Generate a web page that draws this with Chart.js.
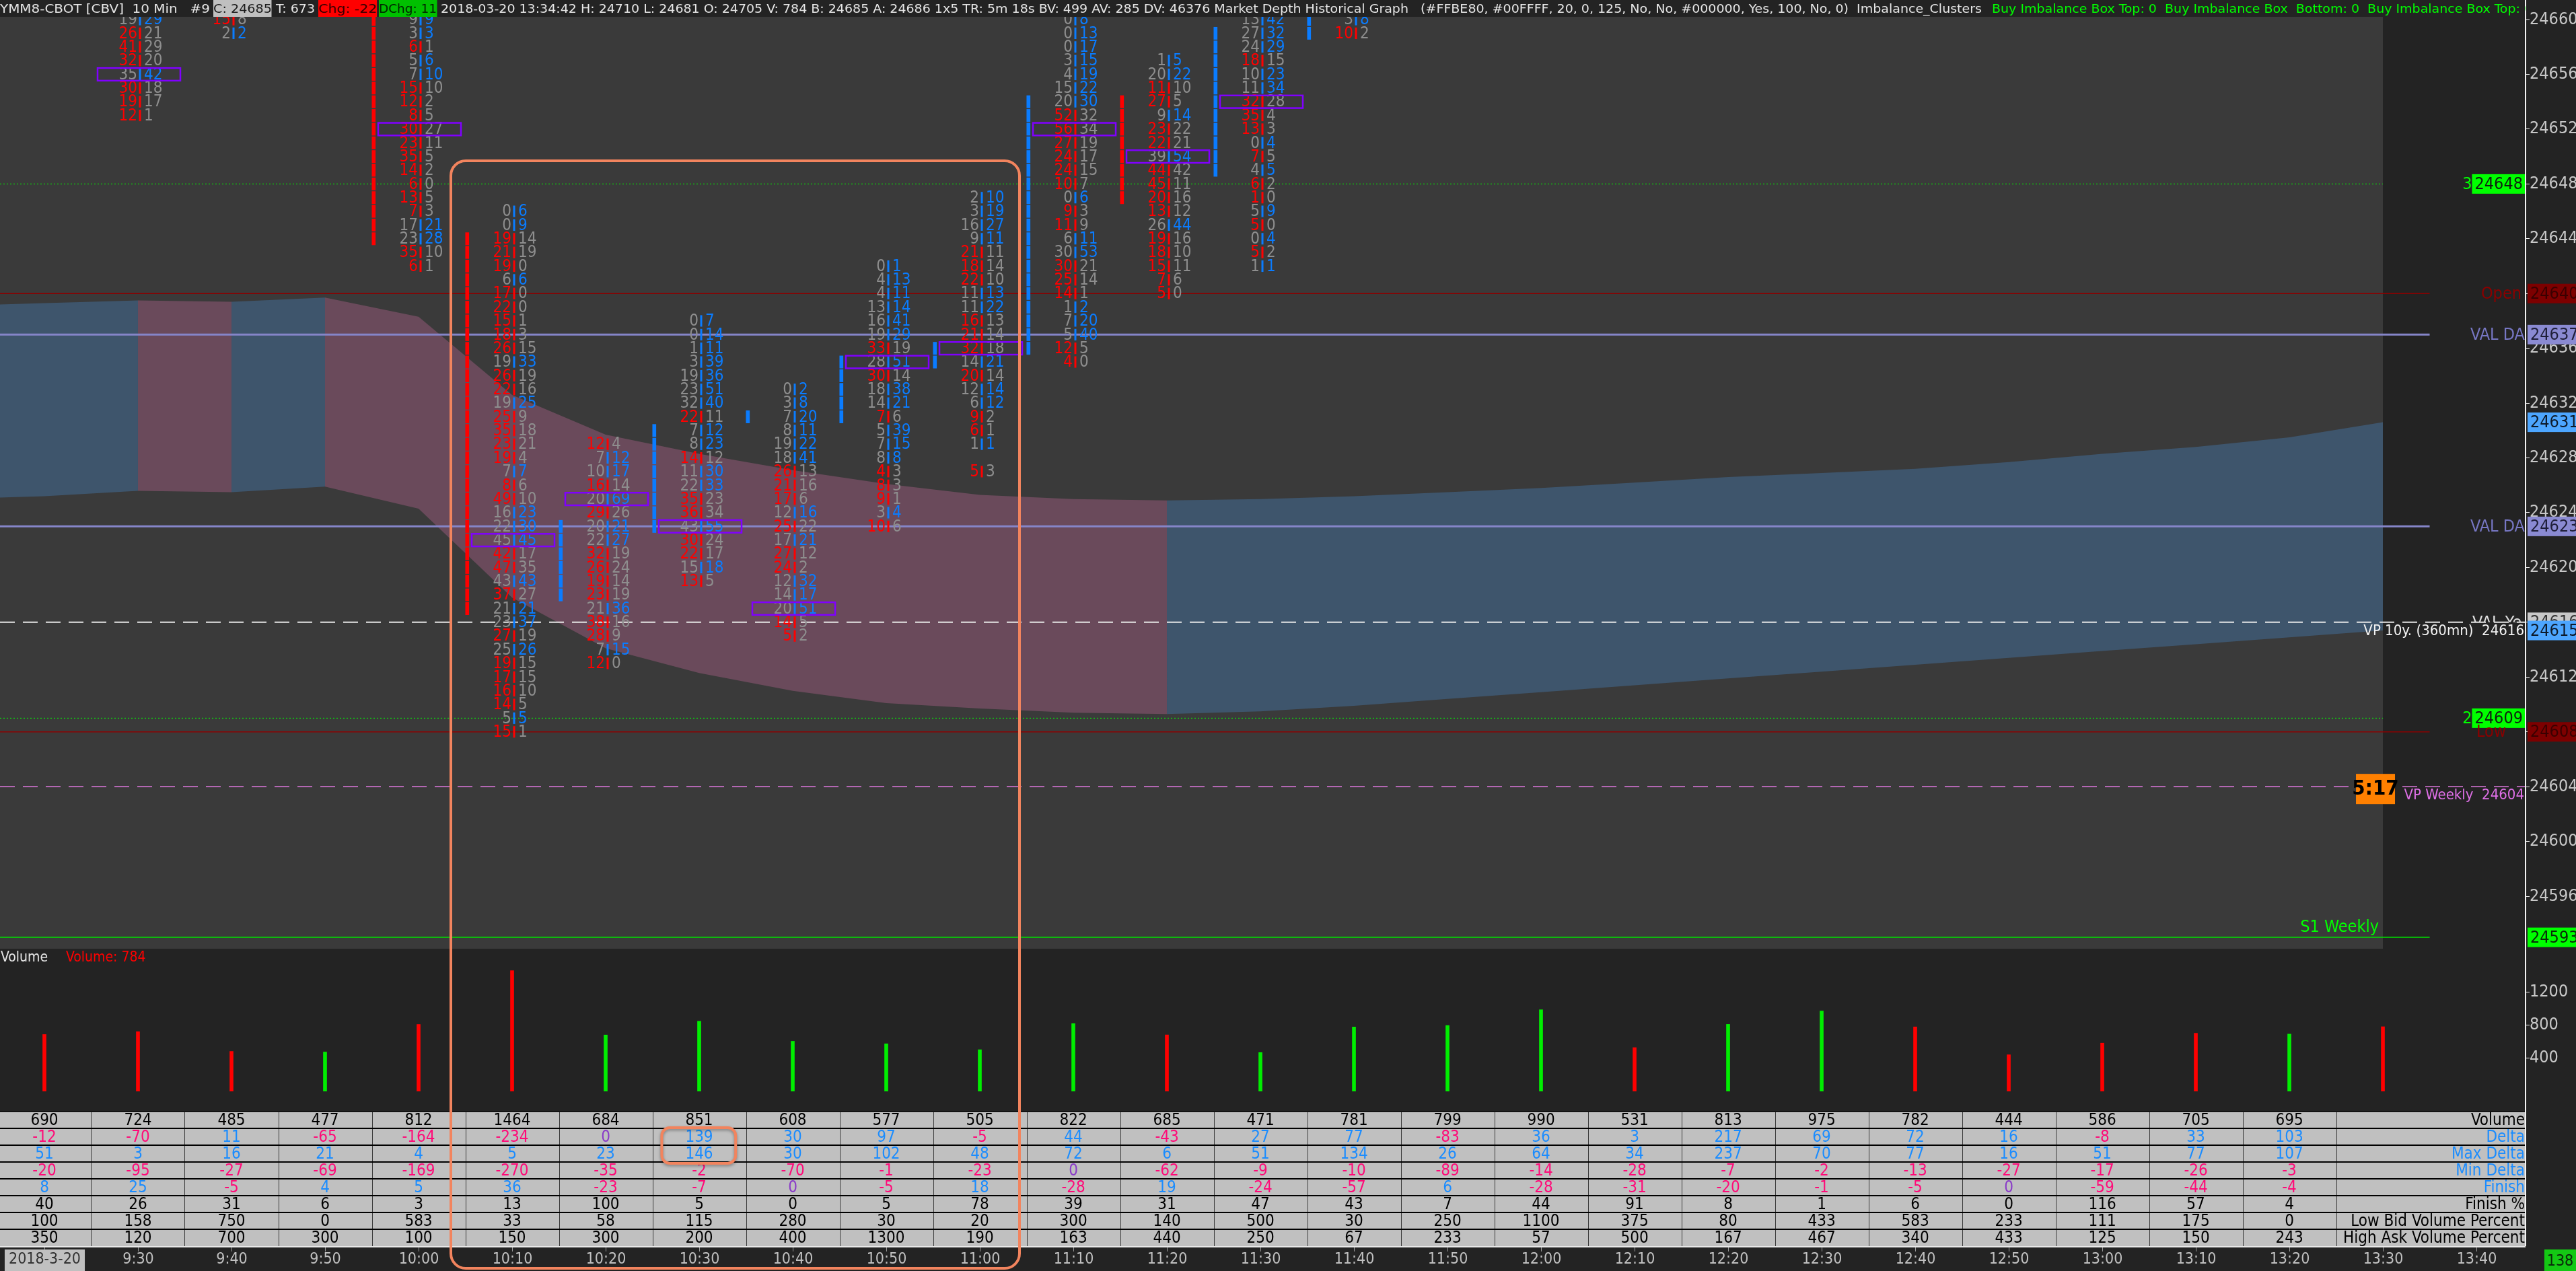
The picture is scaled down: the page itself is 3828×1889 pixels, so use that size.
<!DOCTYPE html>
<html>
<head>
<meta charset="utf-8">
<title>YMM8-CBOT 10 Min</title>
<script src="https://cdn.jsdelivr.net/npm/chart.js@4.4.1/dist/chart.umd.min.js"></script>
<style>
  html, body { margin: 0; padding: 0; background: #232323; }
  #stage { position: relative; width: 3828px; height: 1889px; overflow: hidden; background: #232323; }
  #stage canvas { position: absolute; left: 0; }
  #header { position: absolute; left: 0; top: 0; width: 3753px; height: 25px; overflow: hidden; z-index: 4;
            font-family: 'DejaVu Sans Condensed', 'DejaVu Sans', sans-serif; font-size: 18px; color: #e6e6e6; white-space: pre; }
  #header span { position: absolute; top: 0; height: 25px; line-height: 25px; transform-origin: 0 50%; }
  #axisline { position: absolute; left: 3752px; top: 0; width: 2px; height: 1852px; background: #f2f2f2; z-index: 3; }
  #highlight { position: absolute; border: 4px solid #f2845e; border-radius: 24px; box-sizing: border-box; z-index: 6; }
  #barcount { position: absolute; left: 3781px; top: 1857px; width: 47px; height: 32px; background: #14c814; color: #0b2a0b;
              font-family: 'Liberation Sans Narrow', 'DejaVu Sans Condensed', sans-serif; font-size: 23px; line-height: 32px; text-align: center; z-index: 4; }
</style>
</head>
<body>
<div id="stage">
  <canvas id="priceChart" width="3828" height="1426" style="top:0;width:3828px;height:1426px"></canvas>
  <canvas id="volChart" width="3828" height="240" style="top:1412px;width:3828px;height:240px"></canvas>
  <canvas id="tableChart" width="3828" height="237" style="top:1652px;width:3828px;height:237px"></canvas>
  <div id="header"><span data-w="312" style="left:0">YMM8-CBOT [CBV]  10 Min   #9</span><span data-w="87" style="left:317px;background:#c0c0c0;color:#1a1a1a">C: 24685</span><span data-w="58" style="left:410px">T: 673</span><span data-w="87" style="left:473px;background:#ff0000;color:#3a0000">Chg: -22</span><span data-w="86" style="left:563px;background:#00c000;color:#002800">DChg: 11</span><span id="hmain" data-w="2290" style="left:655px">2018-03-20 13:34:42 H: 24710 L: 24681 O: 24705 V: 784 B: 24685 A: 24686 1x5 TR: 5m 18s BV: 499 AV: 285 DV: 46376 Market Depth Historical Graph   (#FFBE80, #00FFFF, 20, 0, 125, No, No, #000000, Yes, 100, No, 0)  Imbalance_Clusters</span><span id="hgreen" style="left:2960px;color:#00ff00">Buy Imbalance Box Top: 0  Buy Imbalance Box  Bottom: 0  Buy Imbalance Box Top: 0</span></div>
  <div id="axisline"></div>
  <div id="highlight"></div>
  <div id="barcount">138</div>
</div>
<script>
// ---- data ----
const timeLabels = ['2018-3-20', '9:30', '9:40', '9:50', '10:00', '10:10', '10:20', '10:30', '10:40', '10:50', '11:00',
  '11:10', '11:20', '11:30', '11:40', '11:50', '12:00', '12:10', '12:20', '12:30', '12:40', '12:50', '13:00', '13:10',
  '13:20', '13:30', '13:40'];
const priceTicks = [24596, 24600, 24604, 24608, 24612, 24616, 24620, 24624, 24628, 24632, 24636, 24640, 24644, 24648,
  24652, 24656, 24660];
const volTicks = [400, 800, 1200];

const volume = [690, 724, 485, 477, 812, 1464, 684, 851, 608, 577, 505, 822, 685, 471, 781, 799, 990, 531, 813, 975,
  782, 444, 586, 705, 695, 784];
const volUp = [0, 0, 0, 1, 0, 0, 1, 1, 1, 1, 1, 1, 0, 1, 1, 1, 1, 0, 1, 1, 0, 0, 0, 0, 1, 0];

// stats table (completed bars only)
const delta = [-12, -70, 11, -65, -164, -234, 0, 139, 30, 97, -5, 44, -43, 27, 77, -83, 36, 3, 217, 69, 72, 16, -8, 33, 103];
const maxDelta = [51, 3, 16, 21, 4, 5, 23, 146, 30, 102, 48, 72, 6, 51, 134, 26, 64, 34, 237, 70, 77, 16, 51, 77, 107];
const minDelta = [-20, -95, -27, -69, -169, -270, -35, -2, -70, -1, -23, 0, -62, -9, -10, -89, -14, -28, -7, -2, -13, -27, -17, -26, -3];
const finish = [8, 25, -5, 4, 5, 36, -23, -7, 0, -5, 18, -28, 19, -24, -57, 6, -28, -31, -20, -1, -5, 0, -59, -44, -4];
const finishPct = [40, 26, 31, 6, 3, 13, 100, 5, 0, 5, 78, 39, 31, 47, 43, 7, 44, 91, 8, 1, 6, 0, 116, 57, 4];
const lowBidPct = [100, 158, 750, 0, 583, 33, 58, 115, 280, 30, 20, 300, 140, 500, 30, 250, 1100, 375, 80, 433, 583, 233, 111, 175, 0];
const highAskPct = [350, 120, 700, 300, 100, 150, 300, 200, 400, 1300, 190, 163, 440, 250, 67, 233, 57, 500, 167, 467, 340, 433, 125, 150, 243];
const rowNames = ['Volume', 'Delta', 'Max Delta', 'Min Delta', 'Finish', 'Finish %', 'Low Bid Volume Percent', 'High Ask Volume Percent'];

// candle bodies (open / close), null where the body is off the visible price range
const candleOpen = [null, null, null, null, 24665, 24644, 24618, 24623, 24631, 24631, 24635, 24636, 24654, 24649, 24659,
  null, null, null, null, null, null, null, null, null, null, 24705];
const candleClose = [null, null, null, null, 24644, 24617, 24623, 24630, 24631, 24635, 24636, 24654, 24647, 24659, 24667,
  null, null, null, null, null, null, null, null, null, null, 24685];

// footprint cells, bid | ask, from the top price downwards
const fp0930 = [[19, 29], [26, 21], [41, 29], [32, 20], [35, 42], [30, 18], [19, 17], [12, 1]];
const fp0940 = [[15, 8], [2, 2]];
const fp1000 = [[9, 9], [3, 3], [6, 1], [5, 6], [7, 10], [15, 10], [12, 2], [8, 5], [30, 27], [23, 11], [35, 5], [14, 2],
  [6, 0], [13, 5], [7, 3], [17, 21], [23, 28], [35, 10], [6, 1]];
const fp1010 = [[0, 6], [0, 9], [19, 14], [21, 19], [19, 0], [6, 6], [17, 0], [22, 0], [15, 1], [18, 3], [26, 15], [19, 33],
  [26, 19], [22, 16], [19, 25], [25, 9], [35, 18], [23, 21], [19, 4], [7, 7], [8, 6], [49, 10], [16, 23], [22, 30], [45, 45],
  [42, 17], [47, 35], [43, 43], [37, 27], [21, 21], [23, 37], [27, 19], [25, 26], [19, 15], [17, 15], [16, 10], [14, 5],
  [5, 5], [15, 1]];
const fp1020 = [[12, 4], [7, 12], [10, 17], [16, 14], [20, 69], [29, 26], [20, 21], [22, 27], [32, 19], [26, 24], [19, 14],
  [23, 19], [21, 36], [38, 16], [28, 9], [7, 15], [12, 0]];
const fp1030 = [[0, 7], [0, 14], [1, 11], [3, 39], [19, 36], [23, 51], [32, 40], [22, 11], [7, 12], [8, 23], [14, 12],
  [11, 30], [22, 33], [35, 23], [36, 34], [43, 55], [30, 24], [22, 17], [15, 18], [13, 5]];
const fp1040 = [[0, 2], [3, 8], [7, 20], [8, 11], [19, 22], [18, 41], [26, 13], [21, 16], [17, 6], [12, 16], [25, 22],
  [17, 21], [27, 12], [24, 2], [12, 32], [14, 17], [20, 51], [14, 5], [5, 2]];
const fp1050 = [[0, 1], [4, 13], [4, 11], [13, 14], [16, 41], [19, 29], [33, 19], [28, 51], [30, 14], [18, 38], [14, 21],
  [7, 6], [5, 39], [7, 15], [8, 8], [4, 3], [8, 3], [9, 1], [3, 4], [10, 6]];
const fp1100 = [[2, 10], [3, 19], [16, 27], [9, 11], [21, 11], [18, 14], [22, 10], [11, 13], [11, 22], [16, 13], [21, 14],
  [32, 18], [14, 21], [20, 14], [12, 14], [6, 12], [9, 2], [6, 1], [1, 1], null, [5, 3]];
const fp1110 = [[0, 8], [0, 13], [0, 17], [3, 15], [4, 19], [15, 22], [20, 30], [52, 32], [56, 34], [27, 19], [24, 17],
  [24, 15], [10, 7], [0, 6], [9, 3], [11, 9], [6, 11], [30, 53], [30, 21], [25, 14], [14, 1], [1, 2], [7, 20], [5, 40],
  [12, 5], [4, 0]];
const fp1120 = [[1, 5], [20, 22], [11, 10], [27, 5], [9, 14], [23, 22], [22, 21], [39, 54], [44, 42], [45, 11], [20, 16],
  [13, 12], [26, 44], [19, 16], [18, 10], [15, 11], [7, 6], [5, 0]];
const fp1130 = [[13, 42], [27, 32], [24, 29], [18, 15], [10, 23], [11, 34], [32, 28], [35, 4], [13, 3], [0, 4], [7, 5],
  [4, 5], [6, 2], [1, 0], [5, 9], [5, 0], [0, 4], [5, 2], [1, 1]];
const fp1140 = [[3, 8], [10, 2]];

const fpBars = [1, 2, 4, 5, 6, 7, 8, 9, 10, 11, 12, 13, 14];
const fpTop = [24660, 24660, 24660, 24646, 24629, 24638, 24633, 24642, 24647, 24660, 24657, 24660, 24660];
const fpPoc = [24656, null, 24652, 24622, 24625, 24623, 24617, 24635, 24636, 24652, 24650, 24654, null];
const fpCells = [fp0930, fp0940, fp1000, fp1010, fp1020, fp1030, fp1040, fp1050, fp1100, fp1110, fp1120, fp1130, fp1140];

// shaded band, one value per bar starting with the 9:10 bar (index -1)
const bandUpper = [24639.1, 24639.3, 24639.5, 24639.4, 24639.7, 24638.3, 24632.6, 24629.7, 24628.3, 24627.1, 24626.1,
  24625.3, 24625.0, 24624.9, 24625.0, 24625.2, 24625.5, 24625.8, 24626.2, 24626.6, 24626.9, 24627.2, 24627.7, 24628.3,
  24628.8, 24629.5, 24630.6];
const bandLower = [24625.0, 24625.2, 24625.6, 24625.5, 24625.9, 24624.3, 24617.8, 24614.1, 24612.3, 24611.0, 24610.1,
  24609.7, 24609.4, 24609.3, 24609.5, 24609.9, 24610.4, 24610.9, 24611.4, 24611.9, 24612.4, 24612.9, 24613.4, 24613.9,
  24614.4, 24614.9, 24615.4];
const bandAbove = [1, 1, 1, 0, 1, 0, 0, 0, 0, 0, 0, 0, 0, 0, 1, 1, 1, 1, 1, 1, 1, 1, 1, 1, 1, 1, 1];

// reference levels
const levelValues = [24648, 24640, 24637, 24623, 24616, 24616, 24609, 24608, 24604, 24593];
const levelNames = ['3', 'Open', 'VAL DA', 'VAL DA', 'VAL Ye', 'VP 10y. (360mn)', '2', 'Low', 'VP Weekly', 'S1 Weekly'];

const timerText = '5:17';
const highlightBars = [5, 10];
const highlightTop = 24649.8;
const highlightCell = {bar: 7, rows: [1, 2]};

// ---- layout / style ----
const NARROW = "'Liberation Sans Narrow', 'DejaVu Sans Condensed', 'Arial Narrow', sans-serif";
const X_MIN = -0.4748, X_MAX = 26.525;
const P_MIN = 24592.17, P_MAX = 24660.2;
const LAST_BAR = volume.length - 1;
const AXIS_W = 75;
const BID_RED = '#ff0000', ASK_BLUE = '#0a7cff', FP_GRAY = '#8e8e8e', POC_PURPLE = '#8000ff';
const BAND_BLUE = '#3e556c', BAND_PINK = '#6a4a5b';
const AXIS_TEXT = '#c8c8c8';

const LEVEL_STYLE = {
  '3': {color: '#00ff00', width: 1, dash: [2, 3], end: LAST_BAR},
  'Open': {color: '#8b0000', width: 1.5, dash: [], end: LAST_BAR + 0.5},
  'VAL DA': {color: '#8585c8', width: 3, dash: [], end: LAST_BAR + 0.5},
  'VAL Ye': null,
  'VP 10y. (360mn)': {color: '#e6e6e6', width: 2, dash: [22, 12], end: X_MAX},
  '2': {color: '#00ff00', width: 1, dash: [2, 3], end: LAST_BAR},
  'Low': {color: '#8b0000', width: 1.5, dash: [], end: LAST_BAR + 0.5},
  'VP Weekly': {color: '#e47ae4', width: 1.5, dash: [22, 12], end: X_MAX},
  'S1 Weekly': {color: '#00e000', width: 1.5, dash: [], end: LAST_BAR + 0.5}
};

function fixAxis(width) {
  return function (scale) {
    scale.width = width;
    scale.paddingTop = 0;
    scale.paddingBottom = 0;
  };
}
function useTicks(values) {
  return function (scale) { scale.ticks = values.map(v => ({value: v})); };
}
const plainTick = v => String(v);

// ---- header fitting ----
let mainScale = 1;
document.querySelectorAll('#header span[data-w]').forEach(s => {
  const nat = s.getBoundingClientRect().width;
  const k = (+s.dataset.w) / nat;
  s.style.transform = 'scaleX(' + k + ')';
  if (s.id === 'hmain') mainScale = k;
});
document.getElementById('hgreen').style.transform = 'scaleX(' + mainScale + ')';

// ---- price panel ----
function axisTag(ctx, text, py, left, bg, fg) {
  ctx.font = '25px ' + NARROW;
  const w = ctx.measureText(text).width + 8;
  ctx.fillStyle = bg;
  ctx.fillRect(left, py - 14.5, w, 29);
  ctx.fillStyle = fg;
  ctx.textAlign = 'left';
  ctx.textBaseline = 'middle';
  ctx.fillText(text, left + 4, py + 1);
  return w;
}

const panelBg = {
  id: 'panelBg',
  beforeDraw(chart) {
    const {ctx, chartArea: a, scales: {x}} = chart;
    ctx.save();
    ctx.fillStyle = '#3a3a3a';
    ctx.fillRect(a.left, a.top, x.getPixelForValue(LAST_BAR) - a.left, a.bottom - a.top);
    ctx.restore();
  }
};

const footprintPlugin = {
  id: 'footprint',
  afterDatasetsDraw(chart) {
    const {ctx, chartArea: a, scales: {x, y}} = chart;
    const rowH = y.getPixelForValue(P_MIN) - y.getPixelForValue(P_MIN + 1);
    ctx.save();
    ctx.beginPath();
    ctx.rect(a.left, a.top, a.right - a.left, a.bottom - a.top);
    ctx.clip();
    ctx.font = '24px ' + NARROW;
    ctx.textBaseline = 'middle';
    fpBars.forEach((bar, b) => {
      const sep = x.getPixelForValue(bar) + 3;
      fpCells[b].forEach((c, k) => {
        if (!c) return;
        const py = y.getPixelForValue(fpTop[b] - k);
        const askWins = c[1] >= c[0];
        ctx.fillStyle = askWins ? ASK_BLUE : BID_RED;
        ctx.fillRect(sep - 1.5, py - rowH * 0.42, 3, rowH * 0.84);
        ctx.textAlign = 'right';
        ctx.fillStyle = askWins ? FP_GRAY : BID_RED;
        ctx.fillText(String(c[0]), sep - 4, py + 1);
        ctx.textAlign = 'left';
        ctx.fillStyle = askWins ? ASK_BLUE : FP_GRAY;
        ctx.fillText(String(c[1]), sep + 6, py + 1);
      });
      if (fpPoc[b] != null) {
        const py = y.getPixelForValue(fpPoc[b]);
        ctx.strokeStyle = POC_PURPLE;
        ctx.lineWidth = 2.5;
        ctx.strokeRect(sep - 63, py - rowH * 0.46, 123, rowH * 0.92);
      }
    });
    ctx.restore();
  }
};

const levelLabels = {
  id: 'levelLabels',
  afterDraw(chart) {
    const {ctx, chartArea: a, scales: {x, y}} = chart;
    const tagLeft = a.right + 3;
    ctx.save();
    ctx.textBaseline = 'middle';
    levelValues.forEach((v, i) => {
      const name = levelNames[i];
      const py = y.getPixelForValue(v);
      ctx.font = '25px ' + NARROW;
      if (name === '3' || name === '2') {
        const tw = ctx.measureText(String(v)).width + 8;
        ctx.fillStyle = '#00ff00';
        ctx.fillRect(a.right - tw, py - 14.5, tw, 29);
        ctx.fillStyle = '#102010';
        ctx.textAlign = 'left';
        ctx.fillText(String(v), a.right - tw + 4, py + 1);
        ctx.fillStyle = '#00ff00';
        ctx.textAlign = 'right';
        ctx.fillText(name, a.right - tw, py + 1);
      } else if (name === 'Open' || name === 'Low') {
        ctx.fillStyle = '#8b0000';
        if (name === 'Open') { ctx.textAlign = 'right'; ctx.fillText(name, a.right - 6, py + 1); }
        else { ctx.textAlign = 'left'; ctx.fillText(name, a.right - 73, py + 1); }
        axisTag(ctx, String(v), py, tagLeft, '#7d0000', '#3a0000');
      } else if (name === 'VAL DA') {
        ctx.fillStyle = '#7777c4';
        ctx.textAlign = 'right';
        ctx.fillText(name, a.right - 1, py + 1);
        axisTag(ctx, v.toFixed(1), py, tagLeft, '#8a8ad2', '#1e1e38');
      } else if (name === 'VAL Ye') {
        ctx.save();
        ctx.beginPath();
        ctx.rect(a.right - 80, py - 20, 80, 20);
        ctx.clip();
        ctx.fillStyle = '#e0e0e0';
        ctx.textAlign = 'right';
        ctx.fillText(name, a.right - 6, py + 2);
        ctx.restore();
        axisTag(ctx, String(v), py, tagLeft, '#c8c8c8', '#333333');
      } else if (name === 'VP 10y. (360mn)' || name === 'VP Weekly') {
        ctx.font = '22px ' + NARROW;
        ctx.fillStyle = name === 'VP Weekly' ? '#e070e8' : '#f2f2f2';
        ctx.textAlign = 'right';
        ctx.fillText(name + '  ' + v, a.right - 2, py + 13);
      } else if (name === 'S1 Weekly') {
        ctx.fillStyle = '#00ff00';
        ctx.textAlign = 'right';
        ctx.fillText(name, x.getPixelForValue(LAST_BAR) - 6, py - 15);
        axisTag(ctx, String(v), py, tagLeft, '#00ff00', '#0a2a0a');
      }
    });
    // band end values
    const up = bandUpper[bandUpper.length - 1], lo = bandLower[bandLower.length - 1];
    axisTag(ctx, String(Math.round(up)), y.getPixelForValue(up), tagLeft, '#4da6ff', '#0d1a2a');
    axisTag(ctx, String(Math.round(lo)), y.getPixelForValue(lo), tagLeft, '#4da6ff', '#0d1a2a');
    // bar timer
    const tx = x.getPixelForValue(LAST_BAR) - 11, ty = y.getPixelForValue(24604) + 3;
    ctx.fillStyle = '#ff8000';
    ctx.fillRect(tx - 29, ty - 22, 58, 45);
    ctx.fillStyle = '#000000';
    ctx.font = 'bold 31px ' + NARROW;
    ctx.textAlign = 'center';
    ctx.fillText(timerText, tx, ty + 1);
    ctx.restore();
  }
};

const bandIdx = bandUpper.map((_, i) => i - 1);
const candleData = [];
candleOpen.forEach((o, i) => {
  const c = candleClose[i];
  if (o == null || c == null) return;
  for (let p = Math.min(o, c); p <= Math.max(o, c); p++) {
    candleData.push({x: i - 0.48, y: [p - 0.45, p + 0.45], up: c >= o});
  }
});

const levelSets = levelValues.map((v, i) => {
  const st = LEVEL_STYLE[levelNames[i]];
  if (!st) return null;
  return {
    type: 'line', order: 5,
    data: [{x: X_MIN, y: v}, {x: st.end, y: v}],
    borderColor: st.color, borderWidth: st.width, borderDash: st.dash,
    pointRadius: 0, fill: false
  };
}).filter(Boolean);

const priceChart = new Chart(document.getElementById('priceChart'), {
  type: 'line',
  data: {
    datasets: [
      {
        label: 'band low', order: 10,
        data: bandLower.map((v, i) => ({x: bandIdx[i], y: v})),
        borderWidth: 0, pointRadius: 0, fill: false
      },
      {
        label: 'band high', order: 9,
        data: bandUpper.map((v, i) => ({x: bandIdx[i], y: v})),
        borderWidth: 0, pointRadius: 0, fill: '-1', backgroundColor: BAND_BLUE,
        segment: {backgroundColor: ctx => bandAbove[ctx.p1DataIndex] ? BAND_BLUE : BAND_PINK}
      },
      ...levelSets,
      {
        type: 'bar', label: 'candles', order: 1,
        data: candleData,
        barThickness: 5, grouped: false,
        backgroundColor: ctx => (ctx.raw && ctx.raw.up) ? ASK_BLUE : BID_RED
      }
    ]
  },
  options: {
    responsive: false, animation: false, devicePixelRatio: 1, events: [],
    layout: {padding: {top: 25, bottom: 16, left: 0, right: 0}},
    plugins: {legend: {display: false}, tooltip: {enabled: false}},
    scales: {
      x: {type: 'linear', min: X_MIN, max: X_MAX, display: false, offset: false},
      y: {
        type: 'linear', position: 'right', min: P_MIN, max: P_MAX, bounds: 'data',
        afterFit: fixAxis(AXIS_W),
        afterBuildTicks: useTicks(priceTicks),
        ticks: {autoSkip: false, padding: 0, color: AXIS_TEXT, font: {family: NARROW, size: 25}, callback: plainTick},
        grid: {drawOnChartArea: false, tickLength: 6, tickColor: '#f2f2f2'},
        border: {display: false}
      }
    }
  },
  plugins: [panelBg, footprintPlugin, levelLabels]
});

// highlight frame around 10:10 - 11:00
(function () {
  const x = priceChart.scales.x, y = priceChart.scales.y;
  const el = document.getElementById('highlight');
  const left = x.getPixelForValue(highlightBars[0] - 0.67);
  const right = x.getPixelForValue(highlightBars[1] + 0.44);
  const top = y.getPixelForValue(highlightTop);
  el.style.left = left + 'px';
  el.style.top = top + 'px';
  el.style.width = (right - left) + 'px';
  el.style.height = (1887 - top) + 'px';
})();

// ---- volume panel ----
const volLabel = {
  id: 'volLabel',
  afterDraw(chart) {
    const {ctx, chartArea: a} = chart;
    ctx.save();
    ctx.font = '21px ' + NARROW;
    ctx.textBaseline = 'middle';
    ctx.textAlign = 'left';
    ctx.fillStyle = '#e6e6e6';
    ctx.fillText('Volume', a.left + 1, a.top + 6);
    ctx.fillStyle = '#ff0000';
    ctx.fillText('Volume: ' + volume[LAST_BAR], a.left + 98, a.top + 6);
    ctx.restore();
  }
};

new Chart(document.getElementById('volChart'), {
  type: 'bar',
  data: {
    datasets: [{
      data: volume.map((v, i) => ({x: i, y: v})),
      barThickness: 5,
      backgroundColor: volume.map((_, i) => volUp[i] ? '#00ee00' : '#ff0000')
    }]
  },
  options: {
    responsive: false, animation: false, devicePixelRatio: 1, events: [],
    layout: {padding: {top: 6, bottom: 30, left: 0, right: 0}},
    plugins: {legend: {display: false}, tooltip: {enabled: false}},
    scales: {
      x: {type: 'linear', min: X_MIN, max: X_MAX, display: false, offset: false, grid: {offset: false}},
      y: {
        type: 'linear', position: 'right', min: 0, max: 1665, bounds: 'data',
        afterFit: fixAxis(AXIS_W),
        afterBuildTicks: useTicks(volTicks),
        ticks: {autoSkip: false, padding: 0, color: AXIS_TEXT, font: {family: NARROW, size: 25}, callback: plainTick},
        grid: {drawOnChartArea: false, tickLength: 6, tickColor: '#f2f2f2'},
        border: {display: false}
      }
    }
  },
  plugins: [volLabel]
});

// ---- stats table + time scale ----
const tableRows = [volume.slice(0, LAST_BAR), delta, maxDelta, minDelta, finish, finishPct, lowBidPct, highAskPct];
const signedRow = [false, true, true, true, true, false, false, false];
const blueLabel = [false, true, true, true, true, false, false, false];

const tablePlugin = {
  id: 'statsTable',
  beforeDatasetsDraw(chart) {
    const {ctx, chartArea: a, scales: {x, y}} = chart;
    ctx.save();
    ctx.fillStyle = '#c0c0c0';
    ctx.fillRect(a.left, a.top, a.right - a.left, a.bottom - a.top);
    ctx.strokeStyle = '#3a3a3a';
    ctx.lineWidth = 1;
    for (let i = 0; i < LAST_BAR; i++) {
      const px = Math.round(x.getPixelForValue(i + 0.5)) + 0.5;
      ctx.beginPath(); ctx.moveTo(px, a.top); ctx.lineTo(px, a.bottom); ctx.stroke();
    }
    ctx.strokeStyle = '#000000';
    ctx.lineWidth = 2;
    for (let r = 0; r < tableRows.length; r++) {
      const py = y.getPixelForValue(r);
      ctx.beginPath(); ctx.moveTo(a.left, py); ctx.lineTo(a.right, py); ctx.stroke();
    }
    ctx.textBaseline = 'middle';
    tableRows.forEach((vals, r) => {
      const cy = y.getPixelForValue(r + 0.5) + 1;
      ctx.font = '24px ' + NARROW;
      ctx.textAlign = 'center';
      vals.forEach((v, i) => {
        let col = '#000000';
        if (signedRow[r]) col = v > 0 ? '#1a8cff' : (v < 0 ? '#ff0a78' : '#8a3cc8');
        ctx.fillStyle = col;
        ctx.fillText(String(v), x.getPixelForValue(i), cy);
      });
      ctx.textAlign = 'right';
      ctx.fillStyle = blueLabel[r] ? '#1a8cff' : '#000000';
      ctx.fillText(rowNames[r], a.right - 1, cy);
    });
    // note box around two cells
    const hx0 = x.getPixelForValue(highlightCell.bar - 0.4), hx1 = x.getPixelForValue(highlightCell.bar + 0.39);
    const hy0 = y.getPixelForValue(highlightCell.rows[0]) - 1;
    const hy1 = y.getPixelForValue(highlightCell.rows[1] + 1) + 2;
    ctx.strokeStyle = '#f2845e';
    ctx.lineWidth = 4;
    ctx.shadowColor = 'rgba(0,0,0,0.35)';
    ctx.shadowBlur = 4;
    ctx.shadowOffsetY = 2;
    ctx.beginPath();
    ctx.roundRect(hx0, hy0, hx1 - hx0, hy1 - hy0, 12);
    ctx.stroke();
    ctx.restore();
  },
  afterDraw(chart) {
    // time scale under the table, positioned by the x scale
    const {ctx, chartArea: a, scales: {x}} = chart;
    ctx.save();
    ctx.strokeStyle = '#e8e8e8';
    ctx.lineWidth = 2;
    ctx.beginPath(); ctx.moveTo(a.left, a.bottom + 1); ctx.lineTo(a.right, a.bottom + 1); ctx.stroke();
    ctx.font = '23px ' + NARROW;
    ctx.textAlign = 'center';
    ctx.textBaseline = 'middle';
    timeLabels.forEach((t, i) => {
      const px = Math.round(x.getPixelForValue(i)) + 0.5;
      ctx.strokeStyle = '#9a9a9a';
      ctx.lineWidth = 1;
      ctx.beginPath(); ctx.moveTo(px, a.bottom + 2); ctx.lineTo(px, a.bottom + 8); ctx.stroke();
      if (i === 0) {
        const w = ctx.measureText(t).width + 12;
        ctx.fillStyle = '#c0c0c0';
        ctx.fillRect(px - w / 2, a.bottom + 5, w, 32);
        ctx.fillStyle = '#333333';
      } else {
        ctx.fillStyle = '#c0c0c0';
      }
      ctx.fillText(t, px, a.bottom + 20);
    });
    ctx.restore();
  }
};

new Chart(document.getElementById('tableChart'), {
  type: 'scatter',
  data: {datasets: [{data: []}]},
  options: {
    responsive: false, animation: false, devicePixelRatio: 1, events: [],
    layout: {padding: {top: 0, bottom: 37, left: 0, right: AXIS_W}},
    plugins: {legend: {display: false}, tooltip: {enabled: false}},
    scales: {
      x: {type: 'linear', min: X_MIN, max: X_MAX, offset: false, display: false},
      y: {type: 'linear', min: 0, max: 8, reverse: true, display: false}
    }
  },
  plugins: [tablePlugin]
});
</script>
</body>
</html>
